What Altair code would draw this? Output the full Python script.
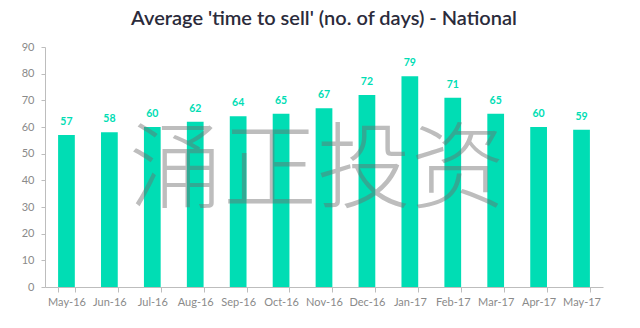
import altair as alt
import pandas as pd

months = ["May-16", "Jun-16", "Jul-16", "Aug-16", "Sep-16", "Oct-16", "Nov-16",
          "Dec-16", "Jan-17", "Feb-17", "Mar-17", "Apr-17", "May-17"]
days = [57, 58, 60, 62, 64, 65, 67, 72, 79, 71, 65, 60, 59]
y_ticks = [0, 10, 20, 30, 40, 50, 60, 70, 80, 90]
title_text = "Average 'time to sell' (no. of days) - National"
watermark = "涌正投资"

df = pd.DataFrame({"month": months, "days": days})

TEAL = "#00DDB4"

x = alt.X("month:N", sort=months, title=None,
          scale=alt.Scale(paddingInner=0.61, paddingOuter=0.305),
          axis=alt.Axis(labelAngle=0, labelFont="Lato", labelFontSize=11,
                        labelColor="#8a8a8a", domainColor="#bdbdbd", tickColor="#bdbdbd",
                        tickSize=5, tickBand="extent", labelPadding=4, grid=False,
                        labelOverlap=False))
y = alt.Y("days:Q", title=None,
          scale=alt.Scale(domain=[0, 90], nice=False),
          axis=alt.Axis(values=y_ticks, tickCount=10, labelOverlap=False,
                        labelFont="Lato", labelFontSize=11,
                        labelColor="#8a8a8a", domainColor="#bdbdbd", tickColor="#bdbdbd",
                        tickSize=4, labelPadding=7, grid=False))

bars = alt.Chart(df).mark_bar(color=TEAL).encode(x=x, y=y)
labels = alt.Chart(df).mark_text(color=TEAL, font="Lato", fontWeight="bold",
                                 fontSize=10.5, dy=-8, baseline="bottom").encode(
    x=alt.X("month:N", sort=months), y="days:Q", text="days:Q")

wm = alt.Chart(pd.DataFrame({"t": [watermark]})).mark_text(
    font="Noto Sans CJK SC", fontWeight=300, fontSize=94, color="#6e6e6e",
    opacity=0.45, align="center", baseline="middle").encode(
    text="t:N", x=alt.value(272), y=alt.value(126))

chart = alt.layer(bars, labels, wm).properties(
    width=558, height=240,
    title=alt.TitleParams(title_text, font="Lato", fontSize=20, fontWeight=600,
                          color="#2b2b3b", offset=12, anchor="middle"),
    autosize=alt.AutoSizeParams(type="none"),
    padding={"left": 45, "top": 47, "right": 37, "bottom": 41},
).configure_view(stroke=None)

chart.save("out.html", embed_options={"renderer": "svg", "actions": False})
